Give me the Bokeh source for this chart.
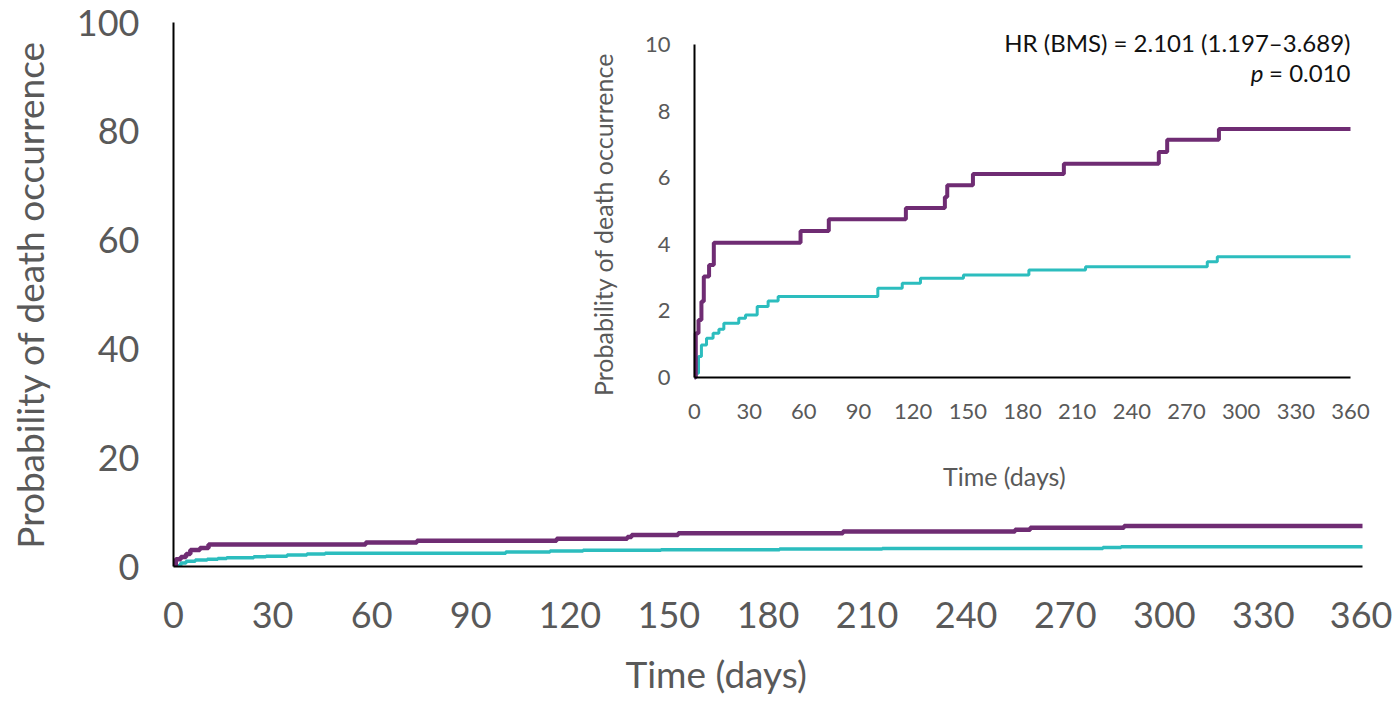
import math
from bokeh.plotting import figure
from bokeh.models import Range1d, FixedTicker, ColumnDataSource, Title
from bokeh.core.properties import value
from bokeh.embed import file_html
from bokeh.resources import INLINE

# ---------------- data ----------------
days_bms = [0, 0.7, 2.2, 3.8, 5.1, 8.0, 10.6, 58.2, 73.7, 116, 137.4, 138.7, 152.8,
            202.7, 254.8, 259.4, 287.8, 360]
prob_bms = [0, 1.33, 1.73, 2.28, 3.03, 3.38, 4.05, 4.40, 4.75, 5.09, 5.42, 5.77, 6.11,
            6.42, 6.77, 7.14, 7.46, 7.46]

days_other = [0, 0.7, 2.2, 3.8, 6.6, 10.2, 13.4, 16.1, 24.3, 28, 34.4, 40.4, 45.9,
              100.6, 114, 124, 147.6, 183.5, 214.6, 281.4, 286.9, 360]
prob_other = [0, 0.13, 0.63, 0.98, 1.18, 1.33, 1.45, 1.63, 1.78, 1.88, 2.13, 2.30, 2.43,
              2.68, 2.83, 2.98, 3.08, 3.23, 3.33, 3.48, 3.63, 3.63]

x_ticks = [0, 30, 60, 90, 120, 150, 180, 210, 240, 270, 300, 330, 360]
main_y_ticks = [0, 20, 40, 60, 80, 100]
inset_y_ticks = [0, 2, 4, 6, 8, 10]

y_title = "Probability of death occurrence"
x_title = "Time (days)"
hr_text = "HR (BMS) = 2.101 (1.197\u20133.689)"
p_letter = "p"
p_value = "= 0.010"

# ---------------- style ----------------
PURPLE = "#6F2C73"
TEAL = "#2CBDBE"
GREY = "#595959"
FONT = "Lato"

W, H = 1392, 713
LEFT, RIGHT, TOP, BOTTOM = 173, 10, 22, 146
frame_w = W - LEFT - RIGHT
frame_h = H - TOP - BOTTOM
main_axis_px = 1189          # pixel length of the main x axis (0..360)
main_ppx = main_axis_px / (x_ticks[-1] - x_ticks[0])
main_x_end = x_ticks[0] + frame_w / main_ppx

p = figure(width=W, height=H, output_backend="svg", toolbar_location=None,
           x_range=Range1d(x_ticks[0], main_x_end),
           y_range=Range1d(main_y_ticks[0], main_y_ticks[-1]),
           min_border_left=LEFT, min_border_right=RIGHT,
           min_border_top=TOP, min_border_bottom=BOTTOM)
p.outline_line_color = None
p.xgrid.visible = False
p.ygrid.visible = False
p.background_fill_color = "white"

# inset placement (pixels within the frame)
in_left, in_right = 521, 1177      # x of day 0 and day 360, from frame left
iy0_px, iy10_px = 355.7, 22.0      # y of 0 and 10, from frame top
ppx = (in_right - in_left) / (x_ticks[-1] - x_ticks[0])
ppy = (iy0_px - iy10_px) / (inset_y_ticks[-1] - inset_y_ticks[0])
ix_start = x_ticks[0] - in_left / ppx
ix_end = ix_start + frame_w / ppx
iy_start = inset_y_ticks[0] - (frame_h - iy0_px) / ppy
iy_end = iy_start + frame_h / ppy
p.extra_x_ranges = {"ix": Range1d(ix_start, ix_end)}
p.extra_y_ranges = {"iy": Range1d(iy_start, iy_end)}

# main axes
for ax in (p.xaxis[0], p.yaxis[0]):
    ax.axis_line_color = "black"
    ax.axis_line_width = 2
    ax.major_tick_out = 0
    ax.major_tick_in = 0
    ax.minor_tick_out = 0
    ax.minor_tick_in = 0
    ax.major_label_text_font = FONT
    ax.major_label_text_font_size = "36px"
    ax.major_label_text_color = GREY
    ax.axis_label_text_font = FONT
    ax.axis_label_text_font_size = "37px"
    ax.axis_label_text_font_style = "normal"
    ax.axis_label_text_color = GREY
p.xaxis.bounds = (x_ticks[0], x_ticks[-1])
p.xaxis.ticker = FixedTicker(ticks=x_ticks)
p.yaxis.ticker = FixedTicker(ticks=main_y_ticks)
p.yaxis.axis_label = y_title
p.xaxis.major_label_standoff = 35
p.yaxis.major_label_standoff = 34
p.yaxis.axis_label_standoff = 22

# main x title (left-shifted like the original)
p.add_layout(Title(text=x_title, align="left", offset=452, standoff=36,
                   text_font=FONT, text_font_size="37px", text_font_style="normal",
                   text_color=GREY), "below")

# main curves
p.step(days_other, prob_other, mode="after", line_color=TEAL, line_width=3.5)
p.step(days_bms, prob_bms, mode="after", line_color=PURPLE, line_width=4.5)

# inset curves
p.step(days_other, prob_other, mode="after", line_color=TEAL, line_width=3,
       x_range_name="ix", y_range_name="iy")
p.step(days_bms, prob_bms, mode="after", line_color=PURPLE, line_width=4,
       x_range_name="ix", y_range_name="iy")

# inset axes
p.line([x_ticks[0], x_ticks[-1]], [inset_y_ticks[0], inset_y_ticks[0]],
       line_color="black", line_width=2, x_range_name="ix", y_range_name="iy")
p.line([x_ticks[0], x_ticks[0]], [inset_y_ticks[0], inset_y_ticks[-1]],
       line_color="black", line_width=2, x_range_name="ix", y_range_name="iy")

xs = ColumnDataSource(dict(x=x_ticks, y=[inset_y_ticks[0]] * len(x_ticks),
                           t=[str(v) for v in x_ticks]))
p.text("x", "y", text="t", source=xs, x_range_name="ix", y_range_name="iy",
       text_font=value(FONT), text_font_size="22px", text_color=GREY,
       text_align="center", text_baseline="middle", y_offset=34)
ys = ColumnDataSource(dict(x=[x_ticks[0]] * len(inset_y_ticks), y=inset_y_ticks,
                           t=[str(v) for v in inset_y_ticks]))
p.text("x", "y", text="t", source=ys, x_range_name="ix", y_range_name="iy",
       text_font=value(FONT), text_font_size="22px", text_color=GREY,
       text_align="right", text_baseline="middle", x_offset=-24)

mid_x = (x_ticks[0] + x_ticks[-1]) / 2
mid_y = (inset_y_ticks[0] + inset_y_ticks[-1]) / 2
p.text([mid_x - 10], [inset_y_ticks[0]], text=[x_title], x_range_name="ix", y_range_name="iy",
       text_font=value(FONT), text_font_size="25px", text_color=GREY,
       text_align="center", text_baseline="middle", y_offset=98)
p.text([x_ticks[0]], [mid_y - 0.4], text=[y_title], x_range_name="ix", y_range_name="iy",
       text_font=value(FONT), text_font_size="25px", text_color=GREY,
       text_align="center", text_baseline="middle", angle=math.pi / 2, x_offset=-92)

# annotation
p.text([x_ticks[-1]], [inset_y_ticks[-1]], text=[hr_text], x_range_name="ix", y_range_name="iy",
       text_font=value(FONT), text_font_size="24px", text_color="#111111",
       text_align="right", text_baseline="middle", y_offset=-2)
p.text([x_ticks[-1]], [inset_y_ticks[-1]], text=[p_value], x_range_name="ix", y_range_name="iy",
       text_font=value(FONT), text_font_size="24px", text_color="#111111",
       text_align="right", text_baseline="middle", y_offset=28)
p.text([x_ticks[-1]], [inset_y_ticks[-1]], text=[p_letter], x_range_name="ix", y_range_name="iy",
       text_font=value(FONT), text_font_size="24px", text_color="#111111",
       text_font_style="italic",
       text_align="right", text_baseline="middle", y_offset=28, x_offset=-87)

open("out.html", "w").write(file_html(p, INLINE))
